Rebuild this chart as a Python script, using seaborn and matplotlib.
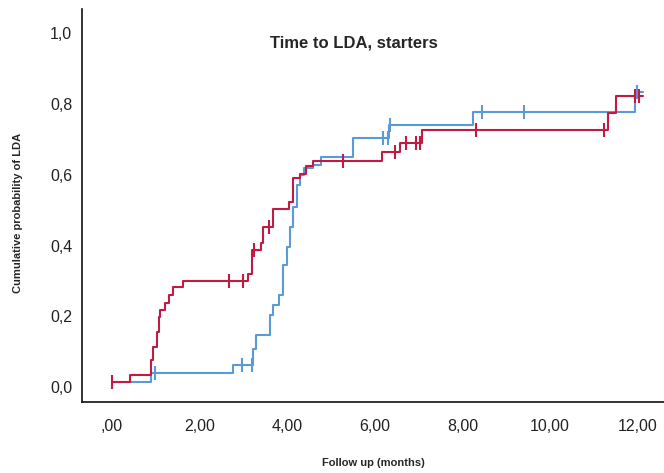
import numpy as np
import pandas as pd
import matplotlib
matplotlib.use("Agg")
import matplotlib.pyplot as plt
import seaborn as sns

# Red group (step curve): times and cumulative probability after each step
red_t = [0.0, 0.41, 0.88, 0.94, 1.02, 1.07, 1.10, 1.21, 1.31, 1.40, 1.63,
         3.10, 3.19, 3.40, 3.45, 3.68, 4.05, 4.14, 4.29, 4.43, 4.58,
         6.16, 6.58, 7.07, 11.33, 11.51, 12.12]
red_p = [0.015, 0.033, 0.076, 0.114, 0.156, 0.199, 0.218, 0.237, 0.260, 0.282, 0.300,
         0.321, 0.387, 0.406, 0.453, 0.502, 0.523, 0.592, 0.602, 0.625, 0.638,
         0.665, 0.690, 0.726, 0.775, 0.822, 0.822]
red_cens = [0.0, 2.68, 3.00, 3.25, 3.59, 5.27, 6.45, 6.71, 6.94, 7.03, 8.31, 11.23, 11.94, 12.02]

# Blue group
blue_t = [0.0, 0.88, 2.77, 3.22, 3.29, 3.61, 3.68, 3.82, 3.90, 4.00, 4.06, 4.13,
          4.22, 4.29, 4.38, 4.58, 4.76, 5.50, 6.33, 8.25, 11.94, 12.12]
blue_p = [0.015, 0.039, 0.064, 0.109, 0.147, 0.203, 0.232, 0.260, 0.345, 0.396, 0.453, 0.509,
          0.571, 0.599, 0.618, 0.627, 0.649, 0.705, 0.740, 0.778, 0.834, 0.834]
blue_cens = [0.97, 2.97, 3.20, 6.18, 6.29, 6.35, 8.44, 9.41, 11.99]

x_ticks = [0, 2, 4, 6, 8, 10, 12]
x_tick_labels = [",00", "2,00", "4,00", "6,00", "8,00", "10,00", "12,00"]
y_ticks = [0.0, 0.2, 0.4, 0.6, 0.8, 1.0]
y_tick_labels = ["0,0", "0,2", "0,4", "0,6", "0,8", "1,0"]

RED = "#c21a43"
BLUE = "#5a9bd6"

sns.set_style("white")
plt.rcParams['font.family'] = ['Liberation Sans', 'DejaVu Sans']

fig = plt.figure(figsize=(6.64, 4.73), dpi=100)
ax = fig.add_axes([0.1235, 0.150, 0.8765, 0.831])

def step_value(ts, ps, x):
    i = np.searchsorted(ts, x, side="right") - 1
    return ps[max(i, 0)]

for ts, ps, cens, col in [(blue_t, blue_p, blue_cens, BLUE), (red_t, red_p, red_cens, RED)]:
    df = pd.DataFrame({"t": ts, "p": ps})
    sns.lineplot(data=df, x="t", y="p", drawstyle="steps-post", color=col,
                 linewidth=1.5, ax=ax, estimator=None, sort=False)
    cdf = pd.DataFrame({"t": cens, "p": [step_value(ts, ps, c) for c in cens]})
    ax.scatter(cdf["t"], cdf["p"], marker="|", s=110, color=col, linewidths=1.5, zorder=3)

ax.set_xlim(-0.685, 12.6)
ax.set_ylim(-0.042, 1.068)
ax.set_xticks(x_ticks)
ax.set_xticklabels(x_tick_labels, fontsize=11.5, color="#222222")
ax.set_yticks(y_ticks)
ax.set_yticklabels(y_tick_labels, fontsize=11.5, color="#222222")
ax.tick_params(axis="y", length=0, pad=7)
ax.tick_params(axis="x", length=0, pad=12)

for s in ["top", "right"]:
    ax.spines[s].set_visible(False)
for s in ["left", "bottom"]:
    ax.spines[s].set_color("#111111")
    ax.spines[s].set_linewidth(1.2)

ax.set_xlabel("")
ax.set_ylabel("")
fig.text(373 / 664, 1 - 463 / 473, "Follow up (months)", fontsize=8, fontweight="bold",
         ha="center", va="center")
fig.text(18 / 664, 1 - 213 / 473, "Cumulative probability of LDA", fontsize=8,
         fontweight="bold", rotation=90, ha="center", va="center")
fig.text(354 / 664, 1 - 43 / 473, "Time to LDA, starters", fontsize=12, fontweight="bold",
         ha="center", va="center")

fig.savefig("out.png", dpi=100)
